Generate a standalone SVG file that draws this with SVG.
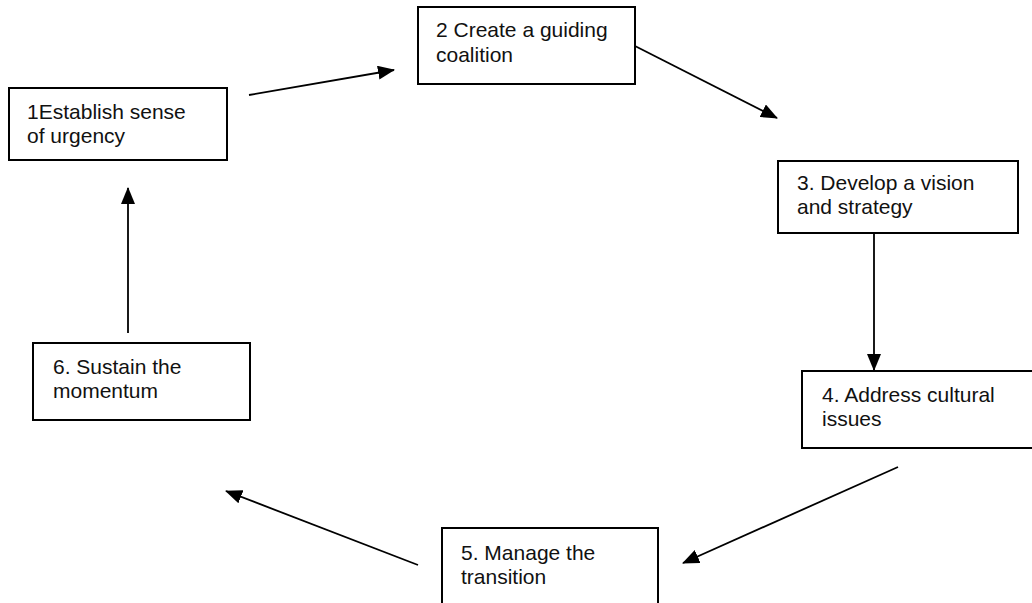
<svg xmlns="http://www.w3.org/2000/svg" width="1032" height="603" viewBox="0 0 1032 603">
  <style>
    .box { fill: #ffffff; stroke: #000000; stroke-width: 2; }
    .lbl { font-family: "Liberation Sans", Arial, sans-serif; font-size: 21px; fill: #111111; }
    .conn { stroke: #000000; stroke-width: 1.8; fill: none; marker-end: url(#arrow); }
  </style>
  <defs>
    <marker id="arrow" viewBox="0 0 17 14" refX="16" refY="7" markerWidth="17" markerHeight="14" markerUnits="userSpaceOnUse" orient="auto">
      <path d="M0,0 L17,7 L0,14 z" fill="#000000"/>
    </marker>
  </defs>
  <rect width="1032" height="603" fill="#ffffff"/>

  <g id="connectors">
    <line class="conn" x1="249" y1="95" x2="394" y2="70"/>
    <line class="conn" x1="635" y1="46" x2="777" y2="118"/>
    <line class="conn" x1="874" y1="233" x2="874" y2="370"/>
    <line class="conn" x1="898" y1="467" x2="683" y2="563"/>
    <line class="conn" x1="418" y1="565" x2="226" y2="491"/>
    <line class="conn" x1="128" y1="333" x2="128" y2="188"/>
  </g>

  <g id="node1">
    <rect class="box" x="9" y="88" width="218" height="72"/>
    <text class="lbl" x="27" y="119">1Establish sense</text>
    <text class="lbl" x="27" y="143">of urgency</text>
  </g>

  <g id="node2">
    <rect class="box" x="418" y="7" width="217" height="77"/>
    <text class="lbl" x="436" y="37">2 Create a guiding</text>
    <text class="lbl" x="436" y="62">coalition</text>
  </g>

  <g id="node3">
    <rect class="box" x="778" y="161" width="240" height="72"/>
    <text class="lbl" x="797" y="190">3. Develop a vision</text>
    <text class="lbl" x="797" y="214">and strategy</text>
  </g>

  <g id="node4">
    <rect class="box" x="802" y="371" width="240" height="77"/>
    <text class="lbl" x="822" y="402">4. Address cultural</text>
    <text class="lbl" x="822" y="426">issues</text>
  </g>

  <g id="node5">
    <rect class="box" x="442" y="528" width="216" height="90"/>
    <text class="lbl" x="461" y="560">5. Manage the</text>
    <text class="lbl" x="461" y="584">transition</text>
  </g>

  <g id="node6">
    <rect class="box" x="33" y="343" width="217" height="77"/>
    <text class="lbl" x="53" y="374">6. Sustain the</text>
    <text class="lbl" x="53" y="398">momentum</text>
  </g>
</svg>
